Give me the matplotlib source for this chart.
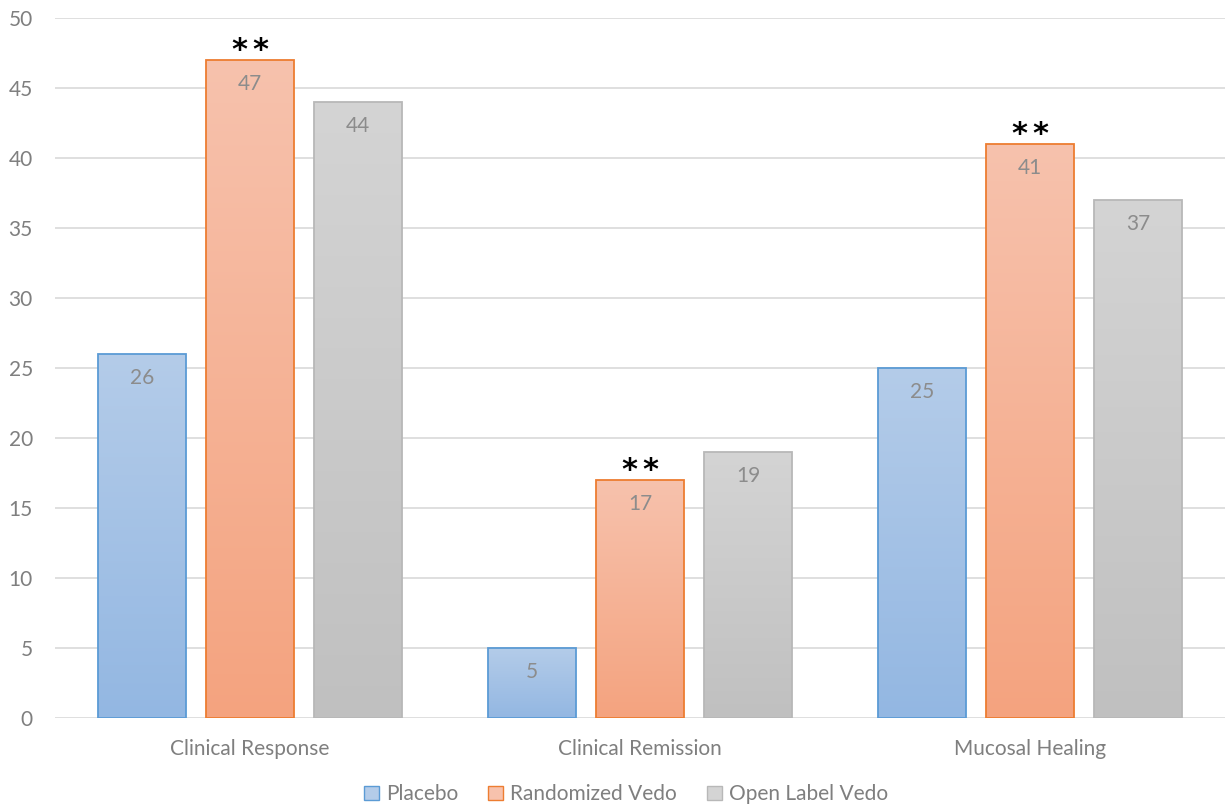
import matplotlib.pyplot as plt
import numpy as np
from matplotlib.colors import LinearSegmentedColormap
from matplotlib.patches import Patch

plt.rcParams['font.family'] = ['Lato', 'DejaVu Sans']

categories = ['Clinical Response', 'Clinical Remission', 'Mucosal Healing']
series_names = ['Placebo', 'Randomized Vedo', 'Open Label Vedo']
placebo = [26, 5, 25]
randomized = [47, 17, 41]
open_label = [44, 19, 37]
significant = [True, True, True]  # ** over randomized vedo

values = [placebo, randomized, open_label]
edge_colors = ['#5b9bd5', '#ed7d31', '#b8b8b8']
grad_top = ['#b4cce9', '#f7c2ad', '#d4d4d4']
grad_bottom = ['#93b7e2', '#f4a37f', '#c0c0c0']

fig = plt.figure(figsize=(12.28, 8.09), dpi=100)
ax = fig.add_axes([0.0448, 0.1125, 0.9528, 0.8653])

x = np.arange(len(categories))
width = 0.2256
step = 0.277

for i, vals in enumerate(values):
	pos = x + (i - 1) * step
	bars = ax.bar(pos, vals, width, facecolor='none', edgecolor=edge_colors[i],
				  linewidth=1.3, zorder=3, label=series_names[i])
	cmap = LinearSegmentedColormap.from_list('g%d' % i, [grad_bottom[i], grad_top[i]])
	grad = np.linspace(0, 1, 256).reshape(-1, 1)
	for b, v in zip(bars, vals):
		bx = b.get_x()
		im = ax.imshow(grad, cmap=cmap, origin='lower', aspect='auto',
					   extent=[bx, bx + width, 0, v], zorder=2)
		im.set_clip_path(b)
		ax.text(bx + width / 2, v - 1.75, str(v), ha='center', va='center',
				fontsize=15, color='#8c8c8c', zorder=4)

# significance stars, drawn as two glyphs so the gap can be set
for xi, v, s in zip(x, randomized, significant):
	if s:
		for dx in (-0.0265, 0.0265):
			ax.text(xi + dx, v + 0.05, '*', ha='center', va='baseline', fontsize=22,
					fontweight='bold', color='black', family='DejaVu Sans')

ax.set_xlim(-0.5, 2.5)
ax.set_ylim(0, 50)
ax.set_yticks(range(0, 51, 5))
ax.set_xticks(x)
ax.set_xticklabels(categories)
ax.yaxis.grid(True, color='#d9d9d9', linewidth=1.2, zorder=0)
ax.set_axisbelow(True)
for sp in ax.spines.values():
	sp.set_visible(False)
ax.tick_params(axis='both', length=0, labelsize=15, colors='#7f7f7f')
ax.tick_params(axis='x', pad=15)
ax.tick_params(axis='y', pad=16)

handles = [Patch(facecolor=grad_top[i], edgecolor=edge_colors[i], label=series_names[i])
		   for i in range(3)]
leg = fig.legend(handles=handles, loc='center', bbox_to_anchor=(0.5098, 0.018), ncol=3,
				 frameon=False, fontsize=15, handlelength=0.7, handleheight=0.7,
				 handletextpad=0.35, columnspacing=1.45)
for t in leg.get_texts():
	t.set_color('#7f7f7f')

fig.savefig('out.png', dpi=100)
